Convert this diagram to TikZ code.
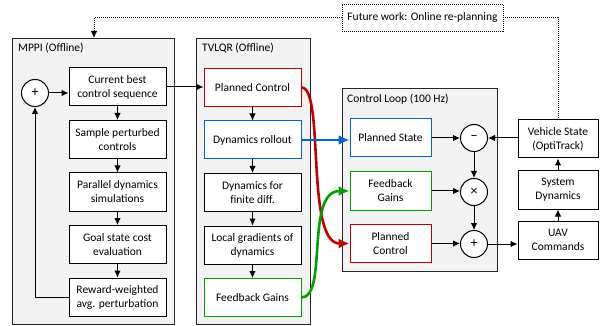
\documentclass[tikz,border=0pt]{standalone}
\usepackage{fontspec}
\setmainfont{Carlito}
\usetikzlibrary{arrows.meta,calc}
\definecolor{ctrlred}{RGB}{192,0,0}
\definecolor{rollblue}{RGB}{0,102,204}
\definecolor{gaingreen}{RGB}{0,160,0}
\definecolor{panelgray}{RGB}{242,242,242}

\tikzset{
  panel/.style={draw=black!85, fill=panelgray, line width=0.8pt},
  title/.style={anchor=west, inner sep=0pt},
  blk/.style={draw, fill=white, line width=1pt, minimum width=97pt,
    minimum height=38pt, align=center, inner sep=0pt},
  sblk/.style={blk, minimum width=81pt},
  rblk/.style={blk, minimum width=80pt},
  sumc/.style={draw, fill=white, circle, line width=1pt, minimum size=27pt, inner sep=0pt,
    font=\fontsize{14}{14}\selectfont},
  arr/.style={-{Latex[length=7pt,width=6.5pt]}, line width=1pt},
  bigarr/.style={-{Latex[length=11pt,width=10pt]}, line width=2.6pt},
  plan/.style={dash pattern=on 1pt off 1pt, line width=0.8pt}
}

\begin{document}
\begin{tikzpicture}[x=1pt, y=-1pt, every node/.style={font=\fontsize{11.5}{14}\selectfont}]
  \useasboundingbox (0,0) rectangle (600,326);

  %%% panels
  \draw[panel] (12,38) rectangle (174,324);
  \draw[panel] (196,38) rectangle (310,324);
  \draw[panel] (342,88) rectangle (497,271);
  \node[title] (tmppi) at (18,48) {MPPI (Offline)};
  \node[title] (tlqr) at (202,48) {TVLQR (Offline)};
  \node[title] (tloop) at (347,99) {Control Loop (100 Hz)};

  %%% MPPI
  \node[sumc] (sum) at (35,93) {+};
  \node[blk] (cur) at (117.5,87) {Current best\\control sequence};
  \node[blk] (samp) at (117.5,139.5) {Sample perturbed\\controls};
  \node[blk] (par) at (117.5,192) {Parallel dynamics\\simulations};
  \node[blk] (goal) at (117.5,244.5) {Goal state cost\\evaluation};
  \node[blk] (rew) at (117.5,297) {Reward-weighted\\avg. perturbation};

  \draw[arr] (sum.east) -- (sum -| cur.west);
  \draw[arr] (cur) -- (samp);
  \draw[arr] (samp) -- (par);
  \draw[arr] (par) -- (goal);
  \draw[arr] (goal) -- (rew);
  \draw[arr] (rew.west) -| (sum.south);

  %%% TVLQR
  \node[blk, draw=ctrlred] (pc) at (252.5,87.5) {Planned Control};
  \node[blk, draw=rollblue] (roll) at (252.5,140) {Dynamics rollout};
  \node[blk] (fin) at (252.5,192.5) {Dynamics for\\finite diff.};
  \node[blk] (grad) at (252.5,245) {Local gradients of\\dynamics};
  \node[blk, draw=gaingreen] (fg) at (252.5,297.5) {Feedback Gains};

  \draw[arr] (cur.east) -- (cur -| pc.west);
  \draw[arr] (pc) -- (roll);
  \draw[arr] (roll) -- (fin);
  \draw[arr] (fin) -- (grad);
  \draw[arr] (grad) -- (fg);

  %%% control loop
  \node[sblk, draw=rollblue] (cps) at (390.5,138) {Planned State};
  \node[sblk, draw=gaingreen] (cfg) at (390.5,191) {Feedback\\Gains};
  \node[sblk, draw=ctrlred] (cpc) at (390.5,243.5) {Planned\\Control};
  \node[sumc] (minus) at (474,138) {−};
  \node[sumc] (times) at (474,192) {×};
  \node[sumc] (plus) at (474,244) {+};

  \draw[arr] (cps.east) -- (cps -| minus.west);
  \draw[arr] (cfg.east) -- (cfg -| times.west);
  \draw[arr] (cpc.east) -- (cpc -| plus.west);
  \draw[arr] (minus) -- (times);
  \draw[arr] (times) -- (plus);

  %%% vehicle side
  \node[rblk] (veh) at (558,139) {Vehicle State\\(OptiTrack)};
  \node[rblk] (sysd) at (558,190) {System\\Dynamics};
  \node[rblk] (uav) at (558,240) {UAV\\Commands};

  \draw[arr] (plus.east) -- (plus -| uav.west);
  \draw[arr] (uav) -- (sysd);
  \draw[arr] (sysd) -- (veh);
  \draw[arr] (minus -| veh.west) -- (minus.east);

  %%% trajectory hand-off
  \draw[bigarr, ctrlred] (pc.east) .. controls (325,87.5) and (305,243.5) .. (cpc.west);
  \draw[bigarr, rollblue] (roll.east) -- (roll -| cps.west);
  \draw[bigarr, gaingreen] (fg.east) .. controls (328,297.5) and (305,191) .. (cfg.west);

  %%% re-planning link
  \node[draw, plan, fill=white, minimum width=161pt, minimum height=27pt, inner sep=0pt] (fut) at (422.5,17.5) {Future work: Online re-planning};
  \coordinate (mtop) at (94,38);
  \draw[plan, -{Latex[length=7pt,width=6.5pt]}] (fut.west) -| (mtop);
  \draw[plan] (fut.east) -| (veh.north);
\end{tikzpicture}
\end{document}
